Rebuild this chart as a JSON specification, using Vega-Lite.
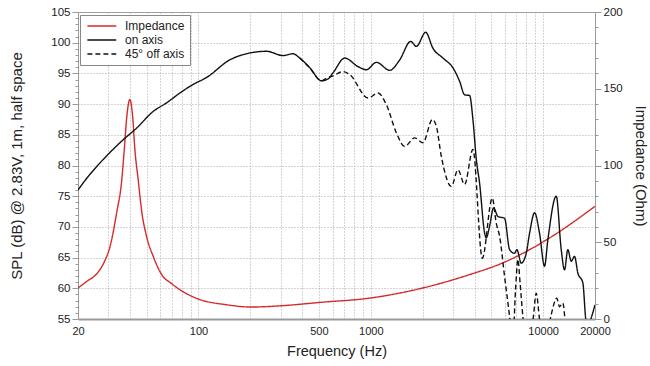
{
  "$schema": "https://vega.github.io/schema/vega-lite/v6.json",
  "width": 517,
  "height": 307,
  "autosize": "none",
  "padding": {"left": 78, "top": 12, "right": 55, "bottom": 47},
  "background": "white",
  "config": {
    "font": "Liberation Sans",
    "view": {"stroke": "#9a9a9a", "strokeWidth": 1},
    "axis": {"labelFont": "Liberation Sans", "titleFont": "Liberation Sans", "labelColor": "#222", "titleColor": "#222", "titleFontWeight": "normal", "domainColor": "#9a9a9a", "tickColor": "#9a9a9a"},
    "legend": {"labelFont": "Liberation Sans"}
  },
  "data": {"values": [
    {"f": 20, "v": 20.2, "s": "Impedance"},
    {"f": 22.5, "v": 24.5, "s": "Impedance"},
    {"f": 25.7, "v": 29.5, "s": "Impedance"},
    {"f": 28.5, "v": 37.5, "s": "Impedance"},
    {"f": 30.7, "v": 47.3, "s": "Impedance"},
    {"f": 33.5, "v": 69, "s": "Impedance"},
    {"f": 35.9, "v": 90.7, "s": "Impedance"},
    {"f": 37.1, "v": 110, "s": "Impedance"},
    {"f": 38.4, "v": 132, "s": "Impedance"},
    {"f": 40, "v": 143, "s": "Impedance"},
    {"f": 41.5, "v": 132, "s": "Impedance"},
    {"f": 42.8, "v": 110, "s": "Impedance"},
    {"f": 44.7, "v": 90.7, "s": "Impedance"},
    {"f": 47, "v": 69, "s": "Impedance"},
    {"f": 50, "v": 53.8, "s": "Impedance"},
    {"f": 55, "v": 40, "s": "Impedance"},
    {"f": 61.2, "v": 28.9, "s": "Impedance"},
    {"f": 70, "v": 23, "s": "Impedance"},
    {"f": 78, "v": 19.1, "s": "Impedance"},
    {"f": 100, "v": 13, "s": "Impedance"},
    {"f": 145, "v": 9.3, "s": "Impedance"},
    {"f": 203, "v": 7.8, "s": "Impedance"},
    {"f": 310, "v": 8.7, "s": "Impedance"},
    {"f": 505, "v": 10.8, "s": "Impedance"},
    {"f": 1000, "v": 13.7, "s": "Impedance"},
    {"f": 2000, "v": 20.2, "s": "Impedance"},
    {"f": 3740, "v": 28.9, "s": "Impedance"},
    {"f": 5820, "v": 36.5, "s": "Impedance"},
    {"f": 10900, "v": 52.8, "s": "Impedance"},
    {"f": 20000, "v": 73.4, "s": "Impedance"},

    {"f": 387, "v": 97.5, "s": "45° off axis"},
    {"f": 443, "v": 95.9, "s": "45° off axis"},
    {"f": 517, "v": 93.8, "s": "45° off axis"},
    {"f": 553, "v": 94.2, "s": "45° off axis"},
    {"f": 604, "v": 94.6, "s": "45° off axis"},
    {"f": 690, "v": 95.3, "s": "45° off axis"},
    {"f": 755, "v": 94.8, "s": "45° off axis"},
    {"f": 964, "v": 91, "s": "45° off axis"},
    {"f": 1102, "v": 91.8, "s": "45° off axis"},
    {"f": 1232, "v": 89.9, "s": "45° off axis"},
    {"f": 1408, "v": 85.3, "s": "45° off axis"},
    {"f": 1573, "v": 83.1, "s": "45° off axis"},
    {"f": 1798, "v": 84.5, "s": "45° off axis"},
    {"f": 2008, "v": 83.7, "s": "45° off axis"},
    {"f": 2276, "v": 87.5, "s": "45° off axis"},
    {"f": 2401, "v": 86.4, "s": "45° off axis"},
    {"f": 2566, "v": 81.5, "s": "45° off axis"},
    {"f": 2934, "v": 76.6, "s": "45° off axis"},
    {"f": 3204, "v": 79.3, "s": "45° off axis"},
    {"f": 3504, "v": 76.9, "s": "45° off axis"},
    {"f": 3914, "v": 82.6, "s": "45° off axis"},
    {"f": 4436, "v": 64.9, "s": "45° off axis"},
    {"f": 5070, "v": 74.7, "s": "45° off axis"},
    {"f": 5346, "v": 70.6, "s": "45° off axis"},
    {"f": 5590, "v": 68.5, "s": "45° off axis"},
    {"f": 5976, "v": 61.9, "s": "45° off axis"},
    {"f": 6388, "v": 55.4, "s": "45° off axis"},
    {"f": 6650, "v": 51, "s": "45° off axis"},
    {"f": 6920, "v": 59.8, "s": "45° off axis"},
    {"f": 7138, "v": 64.7, "s": "45° off axis"},
    {"f": 7350, "v": 60.9, "s": "45° off axis"},
    {"f": 7628, "v": 55.4, "s": "45° off axis"},
    {"f": 8100, "v": 50, "s": "45° off axis"},
    {"f": 8750, "v": 55, "s": "45° off axis"},
    {"f": 9120, "v": 59.2, "s": "45° off axis"},
    {"f": 9530, "v": 55, "s": "45° off axis"},
    {"f": 10190, "v": 50, "s": "45° off axis"},
    {"f": 11140, "v": 55.7, "s": "45° off axis"},
    {"f": 12012, "v": 58.4, "s": "45° off axis"},
    {"f": 12440, "v": 57, "s": "45° off axis"},
    {"f": 13014, "v": 57.6, "s": "45° off axis"},
    {"f": 13500, "v": 54, "s": "45° off axis"},
    {"f": 14200, "v": 50, "s": "45° off axis"},

    {"f": 20, "v": 76, "s": "on axis"},
    {"f": 22.6, "v": 78, "s": "on axis"},
    {"f": 26.8, "v": 80.4, "s": "on axis"},
    {"f": 36.6, "v": 84.2, "s": "on axis"},
    {"f": 43.8, "v": 86.1, "s": "on axis"},
    {"f": 54.6, "v": 88.8, "s": "on axis"},
    {"f": 65.3, "v": 90.2, "s": "on axis"},
    {"f": 78, "v": 91.8, "s": "on axis"},
    {"f": 93, "v": 93.2, "s": "on axis"},
    {"f": 111, "v": 94.3, "s": "on axis"},
    {"f": 152, "v": 97.2, "s": "on axis"},
    {"f": 174, "v": 97.9, "s": "on axis"},
    {"f": 248, "v": 98.6, "s": "on axis"},
    {"f": 310, "v": 97.9, "s": "on axis"},
    {"f": 353, "v": 98.2, "s": "on axis"},
    {"f": 387, "v": 97.5, "s": "on axis"},
    {"f": 443, "v": 95.9, "s": "on axis"},
    {"f": 517, "v": 93.8, "s": "on axis"},
    {"f": 565, "v": 94.1, "s": "on axis"},
    {"f": 604, "v": 95.1, "s": "on axis"},
    {"f": 706, "v": 97.5, "s": "on axis"},
    {"f": 844, "v": 96.1, "s": "on axis"},
    {"f": 944, "v": 95.6, "s": "on axis"},
    {"f": 1078, "v": 96.8, "s": "on axis"},
    {"f": 1288, "v": 95.5, "s": "on axis"},
    {"f": 1472, "v": 97.2, "s": "on axis"},
    {"f": 1703, "v": 100.2, "s": "on axis"},
    {"f": 1839, "v": 99.4, "s": "on axis"},
    {"f": 2082, "v": 101.7, "s": "on axis"},
    {"f": 2294, "v": 99.1, "s": "on axis"},
    {"f": 2622, "v": 97.5, "s": "on axis"},
    {"f": 2998, "v": 95.9, "s": "on axis"},
    {"f": 3278, "v": 93.7, "s": "on axis"},
    {"f": 3504, "v": 91.5, "s": "on axis"},
    {"f": 3746, "v": 91.4, "s": "on axis"},
    {"f": 3914, "v": 87.5, "s": "on axis"},
    {"f": 4096, "v": 81, "s": "on axis"},
    {"f": 4280, "v": 77.1, "s": "on axis"},
    {"f": 4576, "v": 69, "s": "on axis"},
    {"f": 4678, "v": 68.2, "s": "on axis"},
    {"f": 4888, "v": 70.1, "s": "on axis"},
    {"f": 5160, "v": 73.1, "s": "on axis"},
    {"f": 5466, "v": 71.7, "s": "on axis"},
    {"f": 5976, "v": 71.4, "s": "on axis"},
    {"f": 6388, "v": 66.3, "s": "on axis"},
    {"f": 6830, "v": 65.7, "s": "on axis"},
    {"f": 7044, "v": 66.3, "s": "on axis"},
    {"f": 7466, "v": 64.1, "s": "on axis"},
    {"f": 7980, "v": 65.7, "s": "on axis"},
    {"f": 8346, "v": 69, "s": "on axis"},
    {"f": 8920, "v": 72.3, "s": "on axis"},
    {"f": 9530, "v": 69, "s": "on axis"},
    {"f": 10190, "v": 63.6, "s": "on axis"},
    {"f": 10652, "v": 67.9, "s": "on axis"},
    {"f": 11914, "v": 75, "s": "on axis"},
    {"f": 12736, "v": 66.3, "s": "on axis"},
    {"f": 13314, "v": 63, "s": "on axis"},
    {"f": 13912, "v": 66.3, "s": "on axis"},
    {"f": 14556, "v": 64.4, "s": "on axis"},
    {"f": 15212, "v": 65.2, "s": "on axis"},
    {"f": 15902, "v": 62.5, "s": "on axis"},
    {"f": 17000, "v": 60.9, "s": "on axis"},
    {"f": 17784, "v": 54.6, "s": "on axis"},
    {"f": 18500, "v": 54.3, "s": "on axis"},
    {"f": 19012, "v": 55.2, "s": "on axis"},
    {"f": 20000, "v": 57.3, "s": "on axis"}
  ]},
  "encoding": {
    "x": {
      "field": "f", "type": "quantitative",
      "scale": {"type": "log", "domain": [20, 20000]},
      "axis": {
        "title": "Frequency (Hz)",
        "values": [20, 30, 40, 50, 60, 70, 80, 90, 100, 200, 300, 400, 500, 600, 700, 800, 900, 1000, 2000, 3000, 4000, 5000, 6000, 7000, 8000, 9000, 10000, 20000],
        "format": "d",
        "labelExpr": "(datum.value == 20 || datum.value == 100 || datum.value == 500 || datum.value == 1000 || datum.value == 10000 || datum.value == 20000) ? datum.label : ''",
        "labelOverlap": false,
        "labelFlush": false,
        "labelFontSize": 11,
        "labelPadding": 6,
        "ticks": false,
        "grid": true,
        "gridDash": [1, 2],
        "gridColor": "#a8a8a8",
        "domainWidth": 2,
        "titleFontSize": 14.5,
        "titlePadding": 8
      }
    },
    "color": {
      "field": "s", "type": "nominal",
      "scale": {"domain": ["Impedance", "on axis", "45° off axis"], "range": ["#d42a2a", "#111111", "#111111"]},
      "legend": {
        "title": null, "orient": "none", "legendX": 2, "legendY": 3,
        "symbolType": "M-1,0H7", "symbolSize": 52, "symbolStrokeWidth": 1.6,
        "labelFontSize": 12, "labelColor": "#222", "labelOffset": 28,
        "rowPadding": 2, "padding": 5,
        "fillColor": "white", "strokeColor": "#888888", "cornerRadius": 0
      }
    },
    "strokeDash": {
      "field": "s", "type": "nominal",
      "scale": {"domain": ["Impedance", "on axis", "45° off axis"], "range": [[1, 0], [1, 0], [5, 3]]},
      "legend": {
        "title": null, "orient": "none", "legendX": 2, "legendY": 3,
        "symbolType": "M-1,0H7", "symbolSize": 52, "symbolStrokeWidth": 1.6,
        "labelFontSize": 12, "labelColor": "#222", "labelOffset": 28,
        "rowPadding": 2, "padding": 5,
        "fillColor": "white", "strokeColor": "#888888", "cornerRadius": 0
      }
    }
  },
  "layer": [
    {
      "transform": [{"filter": "datum.s == 'Impedance'"}],
      "mark": {"type": "line", "interpolate": "monotone", "strokeWidth": 1.4, "clip": true},
      "encoding": {
        "y": {
          "field": "v", "type": "quantitative",
          "scale": {"domain": [0, 200], "nice": false},
          "axis": {
            "orient": "right",
            "title": "Impedance (Ohm)",
            "values": [0, 10, 20, 30, 40, 50, 60, 70, 80, 90, 100, 110, 120, 130, 140, 150, 160, 170, 180, 190, 200],
            "labelExpr": "datum.value % 50 == 0 ? datum.label : ''",
            "tickSize": {"condition": {"test": "datum.value % 50 == 0", "value": 6}, "value": 3},
            "labelPadding": 2,
            "labelFontSize": 11.5,
            "labelOverlap": false,
            "grid": false,
            "titleFontSize": 15,
            "titlePadding": 10
          }
        }
      }
    },
    {
      "transform": [{"filter": "datum.s == '45° off axis'"}],
      "mark": {"type": "line", "interpolate": "monotone", "strokeWidth": 1.4, "clip": true},
      "encoding": {
        "y": {
          "field": "v", "type": "quantitative",
          "scale": {"domain": [55, 105], "nice": false},
          "axis": null
        }
      }
    },
    {
      "transform": [{"filter": "datum.s == 'on axis'"}],
      "mark": {"type": "line", "interpolate": "monotone", "strokeWidth": 1.4, "clip": true},
      "encoding": {
        "y": {
          "field": "v", "type": "quantitative",
          "scale": {"domain": [55, 105], "nice": false},
          "axis": {
            "orient": "left",
            "title": "SPL (dB) @ 2.83V, 1m, half space",
            "values": [55, 56, 57, 58, 59, 60, 61, 62, 63, 64, 65, 66, 67, 68, 69, 70, 71, 72, 73, 74, 75, 76, 77, 78, 79, 80, 81, 82, 83, 84, 85, 86, 87, 88, 89, 90, 91, 92, 93, 94, 95, 96, 97, 98, 99, 100, 101, 102, 103, 104, 105],
            "labelExpr": "datum.value % 5 == 0 ? datum.label : ''",
            "tickSize": {"condition": {"test": "datum.value % 5 == 0", "value": 6}, "value": 3},
            "labelPadding": 2,
            "labelFontSize": 11.5,
            "labelOverlap": false,
            "grid": true,
            "gridDash": [1, 2],
            "gridColor": "#a8a8a8",
            "gridOpacity": {"condition": {"test": "datum.value % 5 == 0", "value": 1}, "value": 0},
            "titleFontSize": 15,
            "titlePadding": 26
          }
        }
      }
    }
  ],
  "resolve": {"scale": {"y": "independent"}}
}
